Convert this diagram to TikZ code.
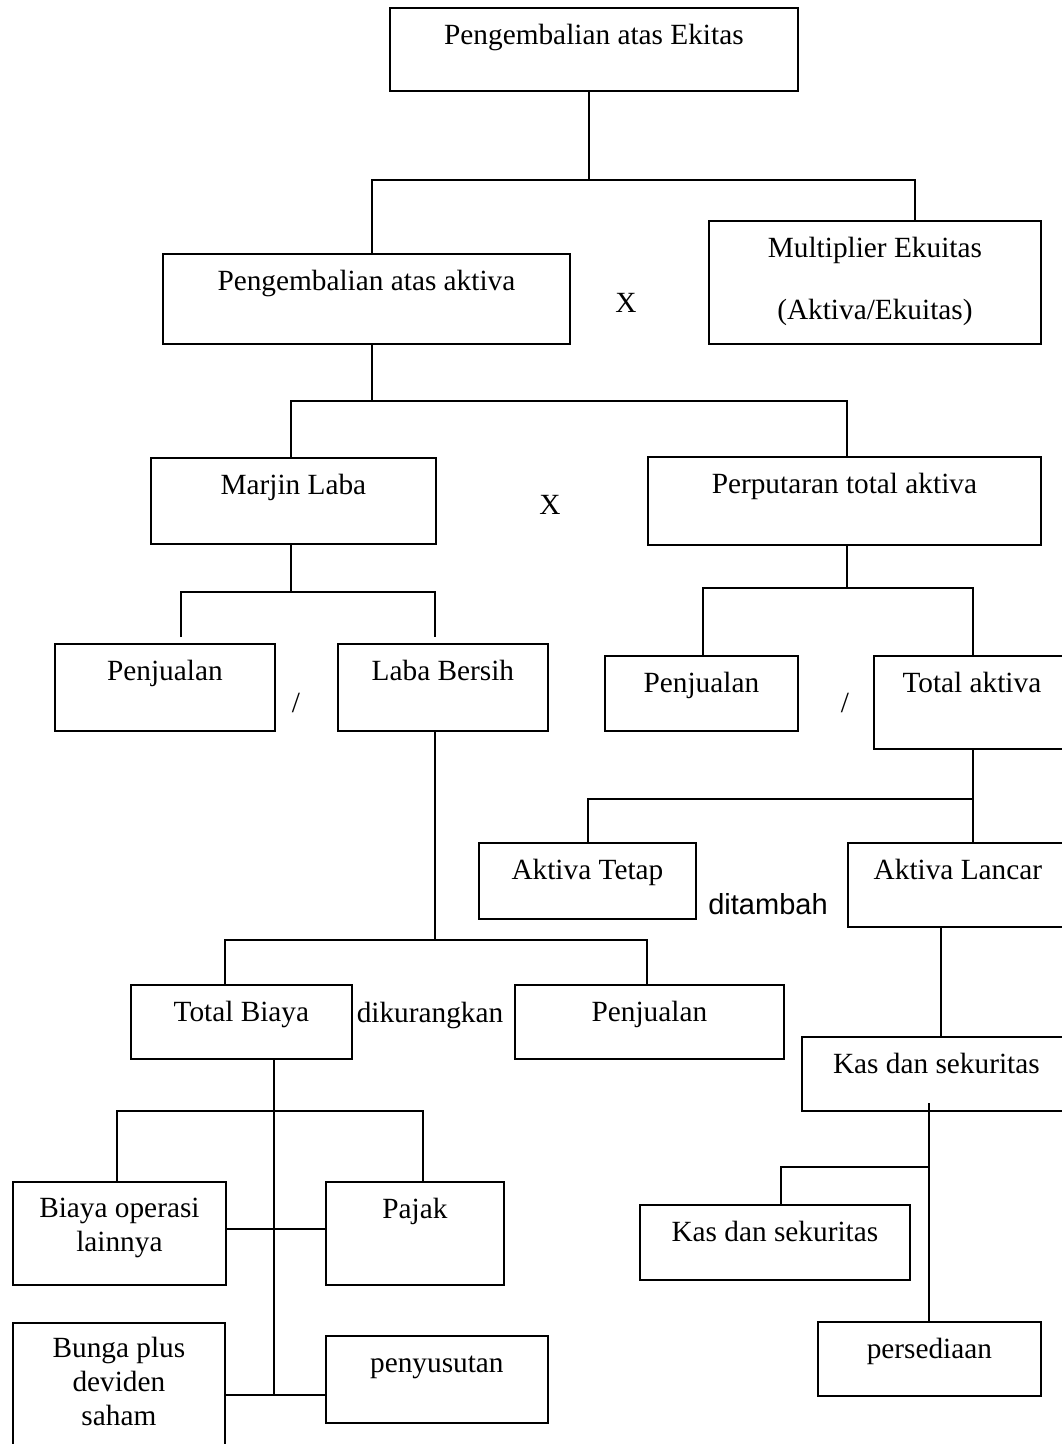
\documentclass[tikz,border=0pt]{standalone}
\usepackage{fontspec}
\setmainfont{Liberation Serif}
\newfontfamily\arialfont{Liberation Sans}
\tikzset{
  kotak/.style={draw, line width=1.8pt, anchor=north west, inner sep=0pt},
  isi/.style={label={[anchor=base, yshift=-37pt, align=center]north:#1}},
  isin/.style 2 args={label={[anchor=base, yshift=-#2, align=center]north:#1}},
  garis/.style={line width=1.8pt},
}
\begin{document}
\begin{tikzpicture}[x=1pt, y=-1pt, font=\fontsize{29.3}{34}\selectfont]
    \useasboundingbox (0,0) rectangle (1062,1444);
    \clip (0,0) rectangle (1062,1444);

    % kotak-kotak (pojok kiri atas)
    \node[kotak, minimum width=408pt, minimum height=83pt, isi={Pengembalian atas Ekitas}] (roe) at (389,7) {};
    \node[kotak, minimum width=407pt, minimum height=90pt, isi={Pengembalian atas aktiva}] (roa) at (162,253) {};
    \node[kotak, minimum width=332pt, minimum height=123pt, isin={Multiplier Ekuitas\\[28pt](Aktiva/Ekuitas)}{99pt}] (mult) at (708,220) {};
    \node[kotak, minimum width=285pt, minimum height=86pt, isi={Marjin Laba}] (marjin) at (150,457) {};
    \node[kotak, minimum width=393pt, minimum height=88pt, isi={Perputaran total aktiva}] (putar) at (647,456) {};
    \node[kotak, minimum width=220pt, minimum height=87pt, isi={Penjualan}] (jual1) at (54,643) {};
    \node[kotak, minimum width=210pt, minimum height=87pt, isi={Laba Bersih}] (laba) at (337,643) {};
    \node[kotak, minimum width=193pt, minimum height=75pt, isi={Penjualan}] (jual2) at (604,655) {};
    \node[kotak, minimum width=196pt, minimum height=93pt, isi={Total aktiva}] (totakt) at (873,655) {};
    \node[kotak, minimum width=217pt, minimum height=76pt, isi={Aktiva Tetap}] (tetap) at (478,842) {};
    \node[kotak, minimum width=220pt, minimum height=84pt, isi={Aktiva Lancar}] (lancar) at (847,842) {};
    \node[kotak, minimum width=221pt, minimum height=74pt, isi={Total Biaya}] (biaya) at (130,984) {};
    \node[kotak, minimum width=269pt, minimum height=74pt, isi={Penjualan}] (jual3) at (514,984) {};
    \node[kotak, minimum width=269pt, minimum height=74pt, isi={Kas dan sekuritas}] (kas) at (801,1036) {};
    \node[kotak, minimum width=270pt, minimum height=75pt, isi={Kas dan sekuritas}] (kas2) at (639,1204) {};
    \node[kotak, minimum width=223pt, minimum height=74pt, isi={persediaan}] (sedia) at (817,1321) {};
    \node[kotak, minimum width=213pt, minimum height=103pt, isin={Biaya operasi\\lainnya}{70pt}] (opr) at (12,1181) {};
    \node[kotak, minimum width=178pt, minimum height=103pt, isi={Pajak}] (pajak) at (325,1181) {};
    \node[kotak, minimum width=212pt, minimum height=148pt, isin={Bunga plus\\deviden\\saham}{103pt}] (bunga) at (12,1322) {};
    \node[kotak, minimum width=222pt, minimum height=87pt, isi={penyusutan}] (susut) at (325,1335) {};

    % operator
    \node (kali1) at (626,303) {X};
    \node (kali2) at (550,505) {X};
    \node (bagi1) at (296,703) {/};
    \node (bagi2) at (845,703) {/};
    \node[font=\arialfont\fontsize{29}{34}\selectfont] (tambah) at (768,904) {ditambah};
    \node[anchor=base] (kurang) at (430,1022) {dikurangkan};

    % garis penghubung
    \coordinate (uj1) at (181,637);
    \coordinate (uj2) at (435,637);
    \coordinate (kaspusat) at (929,1103);
    \draw[garis] (roe.south -| 589,0) -- (589,180);
    \draw[garis] (roa.north -| 372,0) -- (372,180) -- (915,180) -- (mult.north -| 915,0);
    \draw[garis] (roa.south -| 372,0) -- (372,401);
    \draw[garis] (marjin.north -| 291,0) -- (291,401) -- (847,401) -- (putar.north -| 847,0);
    \draw[garis] (marjin.south -| 291,0) -- (291,592);
    \draw[garis] (uj1) -- (181,592) -- (435,592) -- (uj2);
    \draw[garis] (putar.south -| 847,0) -- (847,588);
    \draw[garis] (jual2.north -| 703,0) -- (703,588) -- (973,588) -- (totakt.north -| 973,0);
    \draw[garis] (totakt.south -| 973,0) -- (lancar.north -| 973,0);
    \draw[garis] (tetap.north -| 588,0) |- (973,799);
    \draw[garis] (laba.south -| 435,0) -- (435,940);
    \draw[garis] (biaya.north -| 225,0) -- (225,940) -- (647,940) -- (jual3.north -| 647,0);
    \draw[garis] (lancar.south -| 941,0) -- (kas.north -| 941,0);
    \draw[garis] (kaspusat) -- (sedia.north -| 929,0);
    \draw[garis] (kas2.north -| 781,0) |- (929,1167);
    \draw[garis] (biaya.south -| 274,0) -- (274,1395);
    \draw[garis] (opr.north -| 117,0) -- (117,1111) -- (423,1111) -- (pajak.north -| 423,0);
    \draw[garis] (opr.east |- 0,1229) -- (pajak.west |- 0,1229);
    \draw[garis] (bunga.east |- 0,1395) -- (susut.west |- 0,1395);
\end{tikzpicture}
\end{document}
